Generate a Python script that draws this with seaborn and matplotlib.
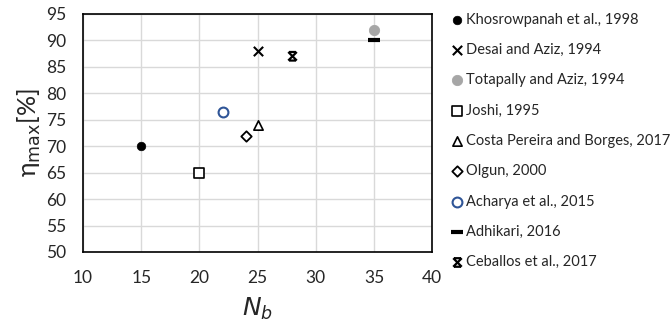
import numpy as np
import pandas as pd
import matplotlib
matplotlib.use("Agg")
import matplotlib.pyplot as plt
from matplotlib.path import Path
from matplotlib.markers import MarkerStyle
import seaborn as sns

# data
studies = ["Khosrowpanah et al., 1998", "Desai and Aziz, 1994", "Totapally and Aziz, 1994",
           "Joshi, 1995", "Costa Pereira and Borges, 2017", "Olgun, 2000",
           "Acharya et al., 2015", "Adhikari, 2016", "Ceballos et al., 2017"]
n_blades = [15, 25, 35, 20, 25, 24, 22, 35, 28]
eta_max = [70, 88, 92, 65, 74, 72, 76.5, 90, 87]

# x with bars on top and bottom (Ceballos marker)
bar_x = Path([(-1, -1), (1, 1), (-1, 1), (1, -1), (-0.8, 1), (0.8, 1), (-0.8, -1), (0.8, -1)],
             [Path.MOVETO, Path.LINETO, Path.MOVETO, Path.LINETO,
              Path.MOVETO, Path.LINETO, Path.MOVETO, Path.LINETO])
bar_x_marker = MarkerStyle(bar_x, fillstyle="none")

styles = {
    "Khosrowpanah et al., 1998": dict(marker="o", s=38, color="black", edgecolor="black"),
    "Desai and Aziz, 1994": dict(marker="x", s=45, color="black", linewidths=1.5),
    "Totapally and Aziz, 1994": dict(marker="o", s=55, color="#a6a6a6", edgecolor="#a6a6a6"),
    "Joshi, 1995": dict(marker="s", s=50, facecolor="white", edgecolor="black", linewidths=1.2),
    "Costa Pereira and Borges, 2017": dict(marker="^", s=45, facecolor="white", edgecolor="black", linewidths=1.2),
    "Olgun, 2000": dict(marker="D", s=28, facecolor="white", edgecolor="black", linewidths=1.3),
    "Acharya et al., 2015": dict(marker="o", s=50, facecolor="white", edgecolor="#2f5597", linewidths=1.5),
    "Adhikari, 2016": dict(marker="_", s=70, color="black", linewidths=3),
    "Ceballos et al., 2017": dict(marker=bar_x_marker, s=38, color="black", linewidths=1.6),
}

df = pd.DataFrame({"study": studies, "Nb": n_blades, "eta": eta_max})

sns.set_style("white")
plt.rcParams["font.family"] = ["Lato", "DejaVu Sans"]

fig = plt.figure(figsize=(6.7, 3.32), dpi=100)
ax = fig.add_axes([0.124, 0.241, 0.521, 0.717])

for name in studies:
    sub = df[df["study"] == name]
    sns.scatterplot(data=sub, x="Nb", y="eta", ax=ax, label=name, zorder=3, **styles[name])

ax.set_xlim(10, 40)
ax.set_ylim(50, 95)
ax.set_xticks(np.arange(10, 41, 5))
ax.set_yticks(np.arange(50, 96, 5))
ax.grid(True, color="#d9d9d9", linewidth=1)
ax.set_axisbelow(True)
for sp in ax.spines.values():
    sp.set_color("black")
    sp.set_linewidth(1.2)
ax.tick_params(axis="both", labelsize=12.5, length=0)
ax.tick_params(axis="y", pad=12)
ax.tick_params(axis="x", pad=13)
ax.set_xlabel("$N_b$", fontsize=18, labelpad=7)
ax.set_ylabel("η$_{\\mathrm{max}}$[%]", fontsize=18, labelpad=2)

ax.legend(loc="upper left", bbox_to_anchor=(1.035, 1.03), frameon=False, fontsize=10.5,
          labelspacing=1.12, handletextpad=0.1, handlelength=1.0, borderaxespad=0)

fig.savefig("out.png", dpi=100)
